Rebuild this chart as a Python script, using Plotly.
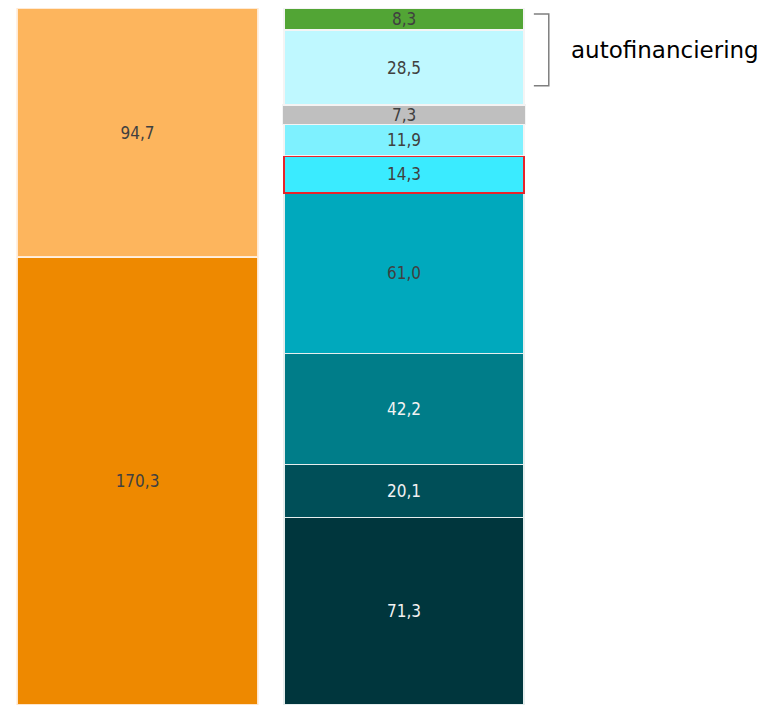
import plotly.graph_objects as go

# Data
left_values = [170.3, 94.7]
left_colors = ["#EE8900", "#FDB55D"]
left_text_colors = ["#404040", "#404040"]

right_values = [71.3, 20.1, 42.2, 61.0, 14.3, 11.9, 7.3, 28.5, 8.3]
right_colors = ["#00363D", "#004F58", "#007D89", "#00A9BD", "#3AEBFF",
                "#7EF1FF", "#BFBFBF", "#BFF8FF", "#52A535"]
right_text_colors = ["#F2F2F2", "#F2F2F2", "#F2F2F2", "#404040", "#404040",
                     "#404040", "#404040", "#404040", "#404040"]
right_line_colors = ["#E6EEEE"] * 4 + ["#E8232A"] + ["#F4F4F4"] * 4

bracket_label = "autofinanciering"

LABEL_FONT = "DejaVu Sans Condensed, DejaVu Sans"

fig = go.Figure()

for v, c, tc in zip(left_values, left_colors, left_text_colors):
    fig.add_trace(go.Bar(
        x=[0], y=[v], width=0.905,
        marker=dict(color=c, line=dict(color="rgba(255,240,225,0.9)", width=1.5)),
        texttemplate="%{y:.1f}", textposition="inside", insidetextanchor="middle",
        constraintext="none",
        textfont=dict(color=tc, size=17, family=LABEL_FONT),
        textangle=0, showlegend=False, hoverinfo="skip",
    ))

for i, (v, c, tc, lc) in enumerate(zip(right_values, right_colors, right_text_colors, right_line_colors)):
    fig.add_trace(go.Bar(
        x=[1], y=[v], width=0.912 if i == 6 else 0.9,
        marker=dict(color=c, line=dict(color=lc, width=2 if i == 4 else 1.5)),
        texttemplate="%{y:.1f}", textposition="inside", insidetextanchor="middle",
        constraintext="none",
        textfont=dict(color=tc, size=17, family=LABEL_FONT),
        textangle=0, showlegend=False, hoverinfo="skip",
    ))

total = sum(right_values)
top_auto = total
bottom_auto = total - right_values[-1] - right_values[-2]

# bracket
bx0, bx1 = 1.487, 1.543
y_top = top_auto - 2.2
y_bot = bottom_auto + 7.3
fig.add_shape(type="path",
              path=f"M {bx0},{y_top} L {bx1},{y_top} L {bx1},{y_bot} L {bx0},{y_bot}",
              line=dict(color="#7F7F7F", width=1.5), xref="x", yref="y")
fig.add_annotation(x=1.62, y=(y_top + y_bot) / 2, text=bracket_label, showarrow=False,
                   xanchor="left", yanchor="middle",
                   font=dict(size=23, color="#000000", family="DejaVu Sans"))

fig.update_layout(
    barmode="stack",
    separators=",.",
    width=758, height=697,
    margin=dict(l=0, r=0, t=0, b=0),
    plot_bgcolor="white", paper_bgcolor="white",
    xaxis=dict(range=[-0.486, 2.358], visible=False),
    yaxis=dict(range=[0, 265.0], visible=False),
)

fig.write_html("out.html")
